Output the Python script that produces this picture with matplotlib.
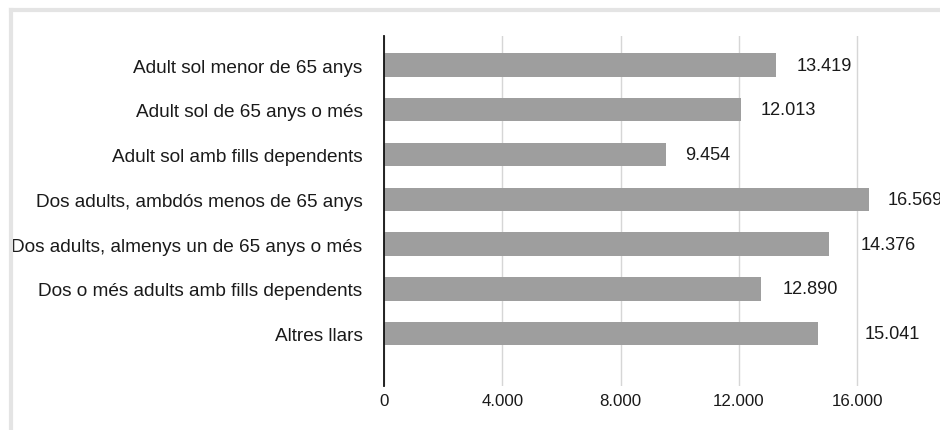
import matplotlib.pyplot as plt
from matplotlib.lines import Line2D

categories = [
    'Adult sol menor de 65 anys',
    'Adult sol de 65 anys o més',
    'Adult sol amb fills dependents',
    'Dos adults, ambdós menos de 65 anys',
    'Dos adults, almenys un de 65 anys o més',
    'Dos o més adults amb fills dependents',
    'Altres llars',
]
# bar lengths as drawn in the picture (not exactly the printed figures)
bar_values = [13240, 12060, 9550, 16390, 15030, 12730, 14660]
value_labels = ['13.419', '12.013', '9.454', '16.569', '14.376', '12.890', '15.041']
xticks = [0, 4000, 8000, 12000, 16000]
xtick_labels = ['0', '4.000', '8.000', '12.000', '16.000']

plt.rcParams['font.family'] = ['Liberation Sans', 'DejaVu Sans']

W, H = 940, 431
fig = plt.figure(figsize=(W / 100, H / 100), dpi=100)

# light grey frame round the chart
fig.add_artist(Line2D([10.5 / W, 10.5 / W], [0, 1 - 10.5 / H], color='#e4e4e4', lw=3,
                      transform=fig.transFigure))
fig.add_artist(Line2D([10.5 / W, 1], [1 - 10.5 / H, 1 - 10.5 / H], color='#e4e4e4', lw=3,
                      transform=fig.transFigure))

left, right, top, bottom = 384, 940, 37, 387
ax = fig.add_axes([left / W, 1 - bottom / H, (right - left) / W, (bottom - top) / H])

px_per_unit = 0.02958
ax.set_xlim(0, (right - left) / px_per_unit)
ax.set_ylim(6 + 1.17, -0.65)

y = list(range(len(categories)))
ax.barh(y, bar_values, height=0.52, color='#9e9e9e', zorder=2)

# gap (px) between bar end and its label, as in the picture
label_gap_px = [21, 19.5, 18.5, 19, 32.5, 22, 47]
for yi, v, lab, g in zip(y, bar_values, value_labels, label_gap_px):
    ax.text(v + g / px_per_unit, yi, lab, va='center', ha='left',
            fontsize=13.1, color='#1a1a1a', clip_on=False)

ax.set_yticks(y)
ax.set_yticklabels(categories, fontsize=13.7, color='#1a1a1a')
ax.set_xticks(xticks)
ax.set_xticklabels(xtick_labels, fontsize=12.2, color='#1a1a1a')
ax.tick_params(axis='both', length=0)
ax.tick_params(axis='y', pad=15.5)
ax.tick_params(axis='x', pad=5)

ax.grid(axis='x', color='#d6d6d6', lw=1, zorder=0)
for s in ['top', 'right', 'bottom']:
    ax.spines[s].set_visible(False)
ax.spines['left'].set_color('#111111')
ax.spines['left'].set_linewidth(1.3)
ax.spines['left'].set_zorder(3)

fig.savefig('out.png', dpi=100)
